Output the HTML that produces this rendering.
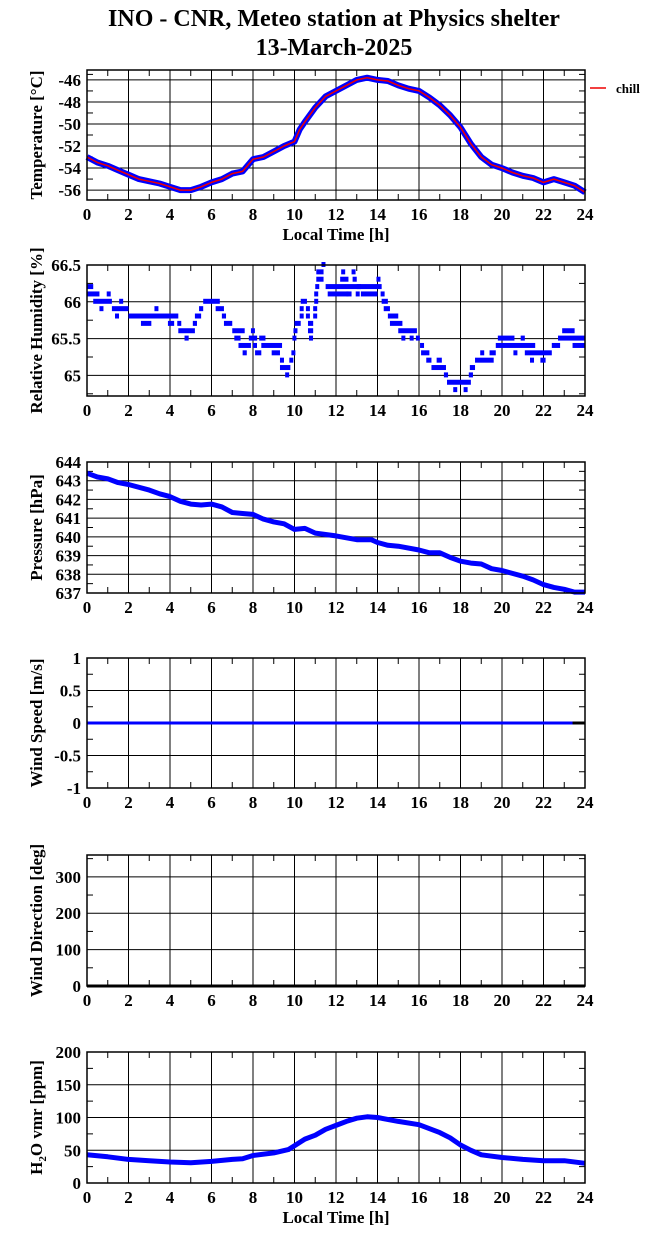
<!DOCTYPE html>
<html><head><meta charset="utf-8"><style>
body{margin:0;background:#fff;}
svg{display:block;font-family:"Liberation Serif","DejaVu Serif",serif;font-weight:bold;}
</style></head><body>
<svg id="c" width="655" height="1248" viewBox="0 0 655 1248">
<text x="334" y="26" text-anchor="middle" font-size="24">INO - CNR, Meteo station at Physics shelter</text>
<text x="334" y="55" text-anchor="middle" font-size="24">13-March-2025</text>
<line x1="590" y1="88" x2="606" y2="88" stroke="#e00" stroke-width="1.5"/>
<text x="616" y="93" font-size="13">chill</text>
</svg>
<script>
const hours=[0,2,4,6,8,10,12,14,16,18,20,22,24];
const tempT=[0,0.5,1,1.5,2,2.5,3,3.5,4,4.5,5,5.5,6,6.5,7,7.5,8,8.5,9,9.5,10,10.25,10.5,11,11.5,12,12.5,13,13.5,14,14.5,15,15.5,16,16.5,17,17.5,18,18.5,19,19.5,20,20.5,21,21.5,22,22.5,23,23.5,24];
const tempV=[-53.0,-53.5,-53.8,-54.2,-54.6,-55.0,-55.2,-55.4,-55.7,-56.0,-56.0,-55.7,-55.3,-55.0,-54.5,-54.3,-53.2,-53.0,-52.5,-52.0,-51.6,-50.5,-49.8,-48.5,-47.5,-47.0,-46.5,-46.0,-45.8,-46.0,-46.1,-46.5,-46.8,-47.0,-47.6,-48.3,-49.2,-50.3,-51.8,-53.0,-53.7,-54.0,-54.4,-54.7,-54.9,-55.3,-55.0,-55.3,-55.6,-56.2];
const humRuns=[[0,0.3,66.2],[0,0.6,66.1],[0.3,1.2,66.0],[0.6,0.75,65.9],[0.95,1.05,66.1],[1.2,2,65.9],[1.35,1.45,65.8],[1.55,1.65,66.0],[2,4.4,65.8],[2.6,3.1,65.7],[3.25,3.35,65.9],[3.9,4.2,65.7],[4.35,4.45,65.7],[4.4,5.2,65.6],[4.7,4.9,65.5],[5.1,5.3,65.7],[5.2,5.5,65.8],[5.4,5.6,65.9],[5.6,6.4,66.0],[6.2,6.6,65.9],[6.5,6.7,65.8],[6.6,7,65.7],[7,7.6,65.6],[7.1,7.4,65.5],[7.3,7.9,65.4],[7.5,7.7,65.3],[7.8,8.2,65.5],[7.9,8.0,65.6],[8.0,8.1,65.4],[8.1,8.4,65.3],[8.3,8.6,65.5],[8.4,9.4,65.4],[8.9,9.3,65.3],[9.3,9.4,65.2],[9.3,9.8,65.1],[9.55,9.65,65.0],[9.75,9.85,65.2],[9.85,9.95,65.3],[9.9,10,65.5],[9.95,10.1,65.6],[10.0,10.3,65.7],[10.25,10.35,65.8],[10.25,10.35,65.9],[10.3,10.6,66.0],[10.55,10.65,65.9],[10.55,10.65,65.8],[10.65,10.9,65.7],[10.65,10.9,65.6],[10.7,10.8,65.5],[10.9,11,65.8],[10.9,11,65.9],[10.95,11.05,66.0],[10.95,11.05,66.1],[11.0,11.1,66.2],[11.05,11.4,66.3],[11.05,11.4,66.4],[11.3,11.4,66.5],[11.5,13.2,66.2],[11.6,12.6,66.1],[12.2,12.6,66.3],[12.25,12.35,66.4],[12.5,12.75,66.1],[12.75,12.85,66.4],[12.8,13.0,66.3],[12.95,13.05,66.1],[13.2,14.0,66.1],[13.0,14.2,66.2],[13.95,14.05,66.3],[14.15,14.25,66.1],[14.2,14.5,66.0],[14.3,14.6,65.9],[14.5,15.0,65.8],[14.6,15.2,65.7],[15.0,15.9,65.6],[15.15,15.25,65.5],[15.55,15.65,65.5],[15.85,16.0,65.5],[16.05,16.15,65.4],[16.1,16.5,65.3],[16.35,16.6,65.2],[16.85,17.1,65.2],[16.6,17.3,65.1],[17.2,17.4,65.0],[17.35,18.5,64.9],[17.65,17.75,64.8],[18.15,18.3,64.8],[18.4,18.6,65.0],[18.45,18.7,65.1],[18.7,19.6,65.2],[18.95,19.1,65.3],[19.4,19.7,65.3],[19.7,21.6,65.4],[19.8,20.6,65.5],[20.55,20.65,65.3],[20.9,21.1,65.5],[21.1,22.4,65.3],[21.35,21.5,65.2],[21.85,22.1,65.2],[22.4,22.8,65.4],[22.7,24,65.5],[22.9,23.5,65.6],[23.4,24,65.4]];
const presT=[0,0.5,1,1.5,2,3,3.5,4,4.5,5,5.5,6,6.5,7,7.5,8,8.5,9,9.5,10,10.5,11,12,13,13.7,14,14.5,15,16,16.5,17,17.5,18,18.5,19,19.5,20,20.5,21,21.5,22,22.5,23,23.5,24];
const presV=[643.4,643.2,643.1,642.9,642.8,642.5,642.3,642.15,641.9,641.75,641.7,641.75,641.6,641.3,641.25,641.2,640.95,640.8,640.7,640.4,640.45,640.2,640.05,639.85,639.85,639.7,639.55,639.5,639.3,639.15,639.15,638.9,638.7,638.6,638.55,638.3,638.2,638.05,637.9,637.7,637.45,637.3,637.2,637.05,637.05];
const windT=[0,24];
const windV=[0,0];
const dirT=[0,24];
const dirV=[0,0];
const h2oT=[0,1,2,3,4,5,6,7,7.5,8,9,9.7,10,10.5,11,11.5,12,12.5,13,13.5,14,15,16,17,17.5,18,18.5,19,20,21,22,23,24];
const h2oV=[43,40,36,34,32,31,33,36,37,42,46,51,57,67,73,82,88,94,99,101,100,94,89,77,69,58,50,43,39,36,34,34,30];

const NS="http://www.w3.org/2000/svg";
const svg=document.getElementById('c');
const X0=87,X1=585;
const xs=t=>X0+(X1-X0)*t/24;
function el(tag,attrs,parent){const e=document.createElementNS(NS,tag);for(const k in attrs)e.setAttribute(k,attrs[k]);(parent||svg).appendChild(e);return e;}

function panel(name,top,bot,ymin,ymax,ticks,minor,title,showXTitle){
  const g=el('g',{});
  
  
  const ys=v=>bot-(bot-top)*(v-ymin)/(ymax-ymin);
  hours.forEach(h=>{const l=el('line',{x1:xs(h),x2:xs(h),y1:top,y2:bot,stroke:'#000','stroke-width':1},g);
    });
  ticks.forEach(v=>{const l=el('line',{x1:X0,x2:X1,y1:ys(v),y2:ys(v),stroke:'#000','stroke-width':1},g);
    
    const t=el('text',{x:81,y:ys(v)+6,'text-anchor':'end','font-size':17},g);t.textContent=v;
    });
  for(let h=1;h<24;h+=2){el('line',{x1:xs(h),x2:xs(h),y1:top,y2:top+6,stroke:'#000'},g);el('line',{x1:xs(h),x2:xs(h),y1:bot,y2:bot-6,stroke:'#000'},g);}
  minor.forEach(v=>{el('line',{x1:X0,x2:X0+6,y1:ys(v),y2:ys(v),stroke:'#000'},g);el('line',{x1:X1,x2:X1-6,y1:ys(v),y2:ys(v),stroke:'#000'},g);});
  hours.forEach(h=>{const t=el('text',{x:xs(h),y:bot+20,'text-anchor':'middle','font-size':17},g);t.textContent=h;
    });
  const cy=(top+bot)/2;
  const tt=el('text',{x:0,y:0,'text-anchor':'middle','font-size':17,transform:`translate(42,${cy}) rotate(-90)`},g);
  tt.innerHTML=title;
  
  if(showXTitle){const xt=el('text',{x:336,y:bot+40,'text-anchor':'middle','font-size':17},g);xt.textContent='Local Time [h]';
    }
  return {g,ys,top,bot};
}
function frame(p){const r=el('rect',{x:X0,y:p.top,width:X1-X0,height:p.bot-p.top,fill:'none',stroke:'#000','stroke-width':1.5},p.g);
  }
function line(p,T,V,color,w,name){
  const pts=T.map((t,i)=>xs(t).toFixed(1)+','+p.ys(V[i]).toFixed(1)).join(' ');
  const l=el('polyline',{points:pts,fill:'none',stroke:color,'stroke-width':w,'stroke-linejoin':'round'},p.g);
  
}

let p=panel('temperature',70,200,-56.9,-45.1,[-56,-54,-52,-50,-48,-46],[-55,-53,-51,-49,-47,-45.5],'Temperature [°C]',true);
line(p,tempT,tempV,'#0000ff',6,'temperature-series');
line(p,tempT,tempV,'#ee0000',1.5,'chill-series');
frame(p);
p=panel('humidity',265,396,64.72,66.5,[65,65.5,66,66.5],[64.75,65.25,65.75,66.25],'Relative Humidity [%]',false);
humRuns.forEach(r=>{const y=p.ys(r[2]);const a=el('rect',{x:xs(r[0]),y:y-3,width:Math.max(4,xs(r[1])-xs(r[0])),height:5,fill:'#0000ff'},p.g);
  });
frame(p);
p=panel('pressure',462,593,637,644,[637,638,639,640,641,642,643,644],[637.5,638.5,639.5,640.5,641.5,642.5,643.5],'Pressure [hPa]',false);
line(p,presT,presV,'#0000ff',5,'pressure-series');
frame(p);
p=panel('wind-speed',658,788,-1,1,[-1,-0.5,0,0.5,1],[-0.75,-0.25,0.25,0.75],'Wind Speed [m/s]',false);
line(p,windT,windV,'#0000ff',3,'wind-speed-series');
el('line',{x1:xs(23.4),x2:xs(24),y1:p.ys(0),y2:p.ys(0),stroke:'#000','stroke-width':3},p.g);
frame(p);
p=panel('wind-direction',855,986,0,360,[0,100,200,300],[50,150,250,350],'Wind Direction [deg]',false);
line(p,dirT,dirV,'#000',3,'wind-direction-series');
frame(p);
p=panel('h2o',1052,1183,0,200,[0,50,100,150,200],[25,75,125,175],'H<tspan font-size="11" dy="4">2</tspan><tspan dy="-4">O vmr [ppm]</tspan>',true);
line(p,h2oT,h2oV,'#0000ff',5,'h2o-series');
frame(p);
</script>
</body></html>
